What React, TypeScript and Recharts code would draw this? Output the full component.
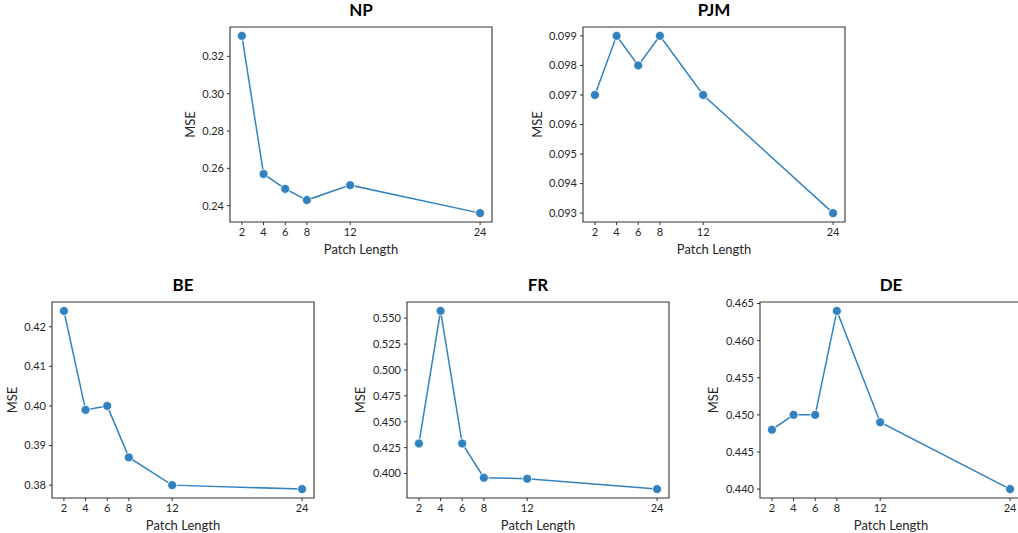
import React from 'react';
import { LineChart, Line, XAxis, YAxis, ReferenceArea } from 'recharts';

const patchLengths = [2, 4, 6, 8, 12, 24];
const npMse = [0.331, 0.257, 0.249, 0.243, 0.251, 0.236];
const pjmMse = [0.097, 0.099, 0.098, 0.099, 0.097, 0.093];
const beMse = [0.424, 0.399, 0.4, 0.387, 0.38, 0.379];
const frMse = [0.429, 0.557, 0.429, 0.396, 0.395, 0.385];
const deMse = [0.448, 0.45, 0.45, 0.464, 0.449, 0.44];

const npTicks = [0.24, 0.26, 0.28, 0.3, 0.32];
const pjmTicks = [0.093, 0.094, 0.095, 0.096, 0.097, 0.098, 0.099];
const beTicks = [0.38, 0.39, 0.4, 0.41, 0.42];
const frTicks = [0.4, 0.425, 0.45, 0.475, 0.5, 0.525, 0.55];
const deTicks = [0.44, 0.445, 0.45, 0.455, 0.46, 0.465];

const FONT = 'Lato, "Open Sans", sans-serif';
const LINE = '#3282bf';
const TEXT = '#262626';

type Panel = {
  title: string;
  values: number[];
  ticks: number[];
  decimals: number;
  box: { left: number; top: number; right: number; bottom: number };
  labelOffset: number;
};

const panels: Panel[] = [
  { title: 'NP', values: npMse, ticks: npTicks, decimals: 2, box: { left: 230, top: 27, right: 492, bottom: 222 }, labelOffset: 40 },
  { title: 'PJM', values: pjmMse, ticks: pjmTicks, decimals: 3, box: { left: 583, top: 27, right: 845, bottom: 222 }, labelOffset: 46 },
  { title: 'BE', values: beMse, ticks: beTicks, decimals: 2, box: { left: 52, top: 302, right: 314, bottom: 498 }, labelOffset: 40 },
  { title: 'FR', values: frMse, ticks: frTicks, decimals: 3, box: { left: 407, top: 302, right: 669, bottom: 498 }, labelOffset: 47 },
  { title: 'DE', values: deMse, ticks: deTicks, decimals: 3, box: { left: 760, top: 302, right: 1022, bottom: 498 }, labelOffset: 47 },
];

const X_MIN = 2 - 0.05 * 22;
const X_MAX = 24 + 0.05 * 22;

function Subplot({ p }: { p: Panel }) {
  const data = patchLengths.map((x, i) => ({ x, y: p.values[i] }));
  const lo = Math.min(...p.values);
  const hi = Math.max(...p.values);
  const pad = (hi - lo) * 0.05;
  const yMin = lo - pad;
  const yMax = hi + pad;
  const boxW = p.box.right - p.box.left;
  const boxH = p.box.bottom - p.box.top;
  const ML = 60;
  const MT = 30;
  const W = ML + boxW + 10;
  const H = MT + boxH + 40;
  return (
    <>
      <div
        style={{
          position: 'absolute',
          left: p.box.left,
          top: p.box.top - 27,
          width: boxW,
          textAlign: 'center',
          fontFamily: FONT,
          fontWeight: 'bold',
          fontSize: 17,
          lineHeight: '20px',
          color: '#000',
        }}
      >
        {p.title}
      </div>
      <div style={{ position: 'absolute', left: p.box.left - ML, top: p.box.top - MT }}>
        <LineChart width={W} height={H} data={data} margin={{ top: MT, right: 10, left: 0, bottom: 0 }}>
          <XAxis
            dataKey="x"
            type="number"
            domain={[X_MIN, X_MAX]}
            ticks={patchLengths}
            allowDataOverflow
            height={40}
            axisLine={false}
            tickLine={{ stroke: '#333' }}
            tickSize={3}
            tickMargin={3}
            tick={{ fill: TEXT, fontSize: 11, fontFamily: FONT }}
            interval={0}
            label={{
              content: (props: any) => {
                const vb = props.viewBox;
                return (
                  <text x={vb.x + vb.width / 2} y={vb.y + 32} textAnchor="middle" fill={TEXT} fontSize={13} fontFamily={FONT}>
                    Patch Length
                  </text>
                );
              },
            }}
          />
          <YAxis
            type="number"
            domain={[yMin, yMax]}
            ticks={p.ticks}
            allowDataOverflow
            width={ML}
            axisLine={false}
            tickLine={{ stroke: '#333' }}
            tickSize={3}
            tickMargin={3}
            interval={0}
            tick={{ fill: TEXT, fontSize: 11, fontFamily: FONT }}
            tickFormatter={(v: number) => v.toFixed(p.decimals)}
            label={{
              content: (props: any) => {
                const vb = props.viewBox;
                const cx = vb.x + vb.width - p.labelOffset;
                const cy = vb.y + vb.height / 2;
                return (
                  <text x={cx} y={cy} dy="0.35em" transform={`rotate(-90, ${cx}, ${cy})`} textAnchor="middle" fill={TEXT} fontSize={13} fontFamily={FONT}>
                    MSE
                  </text>
                );
              },
            }}
          />
          <ReferenceArea x1={X_MIN} x2={X_MAX} y1={yMin} y2={yMax} fill="none" stroke="#333" strokeWidth={1.1} fillOpacity={0} ifOverflow="visible" />
          <Line
            type="linear"
            dataKey="y"
            stroke={LINE}
            strokeWidth={1.5}
            dot={{ r: 4.5, fill: LINE, stroke: '#fff', strokeWidth: 0.8, fillOpacity: 1 }}
            activeDot={false}
            isAnimationActive={false}
          />
        </LineChart>
      </div>
    </>
  );
}

export default function App() {
  return (
    <div
      style={{
        position: 'absolute',
        left: 0,
        top: 0,
        width: 1018,
        height: 533,
        overflow: 'hidden',
        background: '#fff',
      }}
    >
      {panels.map((p) => (
        <Subplot key={p.title} p={p} />
      ))}
    </div>
  );
}
